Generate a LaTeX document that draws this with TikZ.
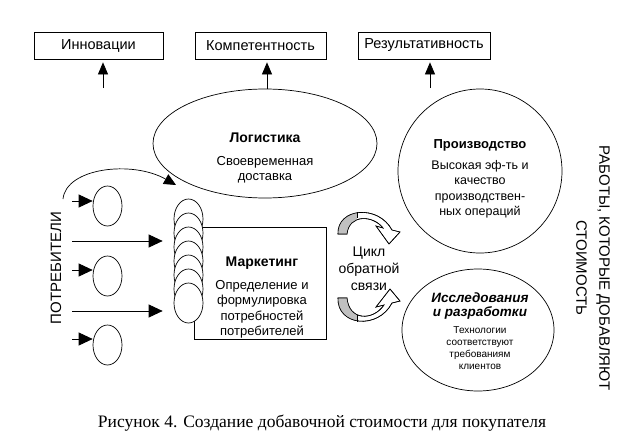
\documentclass[tikz,border=0pt]{standalone}
\usepackage{fontspec}
\setmainfont{Liberation Sans}
\newfontfamily\capfont{Liberation Serif}
\usetikzlibrary{shapes.geometric,arrows.meta}
\definecolor{bandgrey}{RGB}{192,192,192}
\begin{document}
\begin{tikzpicture}[x=1pt,y=-1pt,line width=0.7pt,
  topbox/.style={draw,minimum width=#1,minimum height=27pt,inner sep=0pt,font=\fontsize{14.5}{17}\selectfont},
  oval/.style={draw,ellipse,fill=white,minimum width=29pt,minimum height=40pt,inner sep=0pt},
  bigshape/.style={draw,ellipse,inner sep=0pt},
  title/.style={font=\bfseries\fontsize{14}{16}\selectfont,inner sep=0pt},
  body/.style={align=center,inner sep=0pt,font=\fontsize{13}{15.5}\selectfont},
  uparrow/.style={-{Triangle[length=12pt,width=10pt]}},
  rarrow/.style={-{Triangle[length=14pt,width=13pt]}},
  band/.style={draw,fill=white,line width=0.6pt}]
\useasboundingbox (0,0) rectangle (619,434);

% top boxes
\node[topbox=129pt] (innov) at (98.5,45.5) {Инновации};
\node[topbox=131pt] (komp) at (260.5,45.5) {Компетентность};
\node[topbox=132pt] (rez) at (424,45.5) {Результативность};

% big shapes
\node[bigshape,minimum width=224pt,minimum height=109pt] (log) at (265,143.5) {};
\node[bigshape,minimum width=164pt,minimum height=164pt] (prod) at (480,171) {};
\node[bigshape,minimum width=152pt,minimum height=122pt] (res) at (478,330) {};

% up arrows
\coordinate (a1) at (103,88);
\coordinate (a3) at (430,88);
\coordinate (k1) at (267,89);
\draw[uparrow,shorten >=3pt] (a1) -- (innov.south -| a1);
\draw[uparrow,shorten >=3pt] (k1) -- (komp.south -| k1);
\draw[uparrow,shorten >=3pt] (a3) -- (rez.south -| a3);

% logistics text
\node[title] (logt) at (265,138) {Логистика};
\node[body] (logb) at (265,170) {Своевременная\\доставка};

% production text
\node[title,font=\bfseries\fontsize{13}{15}\selectfont] (prodt) at (480,145) {Производство};
\node[body,font=\fontsize{12.5}{15.5}\selectfont] (prodb) at (480,189.5) {Высокая эф-ть и\\качество\\производствен-\\ных операций};

% marketing box and stack
\node[draw,minimum width=132pt,minimum height=112pt,inner sep=0pt] (mbox) at (260,283) {};
\foreach \k in {0,...,6} \node[oval] (st\k) at (188.5,{219+14*\k}) {};
\node[title] (mt) at (262,263) {Маркетинг};
\node[body] (mb) at (262,309.5) {Определение и\\формулировка\\потребностей\\потребителей};

% left ovals and arrows
\node[oval] (c1) at (107.5,206) {};
\node[oval] (c2) at (107.5,276) {};
\node[oval] (c3) at (107.5,345) {};
\coordinate (s1) at (72,201);
\coordinate (s2) at (72,270);
\coordinate (s3) at (72,339);
\draw[rarrow] (s1) -- (s1 -| c1.west);
\draw[rarrow] (s2) -- (s2 -| c2.west);
\draw[rarrow] (s3) -- (s3 -| c3.west);
\coordinate (l1) at (72,241);
\coordinate (l2) at (72,311);
\draw[rarrow,shorten >=11pt] (l1) -- (l1 -| st0.west);
\draw[rarrow,shorten >=11pt] (l2) -- (l2 -| st0.west);
\coordinate (cs) at (63,199);
\coordinate (ce) at (176,185);
\draw[-{Triangle[length=12pt,width=11pt]}] (cs) .. controls (66,168) and (132,160) .. (ce);

\node[rotate=90,inner sep=0pt,font=\fontsize{15}{18}\selectfont] (potr) at (56,268) {ПОТРЕБИТЕЛИ};

% cycle arrows
\begin{scope}
\draw[band] (338,234) .. controls (337,208) and (378,204) .. (392,230) -- (400,232) -- (389,244) -- (376,226) -- (383,228) .. controls (373,215) and (349,214) .. (347,234) -- cycle;
\clip (338,234) .. controls (337,208) and (378,204) .. (392,230) -- (383,228) .. controls (373,215) and (349,214) .. (347,234) -- cycle;
\fill[bandgrey] (330,200) rectangle (357,240);
\end{scope}
\draw[line width=0.6pt] (338,234) .. controls (337,208) and (378,204) .. (392,230) -- (400,232) -- (389,244) -- (376,226) -- (383,228) .. controls (373,215) and (349,214) .. (347,234) -- cycle;
\draw[line width=0.6pt] (357,212) -- (357,218);
\begin{scope}
\draw[band] (338,298) .. controls (337,326) and (378,330) .. (392,303) -- (400,301) -- (390,289) -- (376,307) -- (384,305) .. controls (373,321) and (349,321) .. (347,298) -- cycle;
\clip (338,298) .. controls (337,326) and (378,330) .. (392,303) -- (384,305) .. controls (373,321) and (349,321) .. (347,298) -- cycle;
\fill[bandgrey] (330,290) rectangle (357,335);
\end{scope}
\draw[line width=0.6pt] (338,298) .. controls (337,326) and (378,330) .. (392,303) -- (400,301) -- (390,289) -- (376,307) -- (384,305) .. controls (373,321) and (349,321) .. (347,298) -- cycle;
\draw[line width=0.6pt] (357,315) -- (357,322);
\node[body,font=\fontsize{14}{17}\selectfont] (cyc) at (369,269) {Цикл\\обратной\\связи};

% research text
\node[body,font=\bfseries\itshape\fontsize{13.5}{14}\selectfont] (rest) at (480,306) {Исследования\\и разработки};
\node[body,font=\fontsize{10}{12}\selectfont] (resb) at (480,348) {Технологии\\соответствуют\\требованиям\\клиентов};

% right vertical text
\node[rotate=-90,align=center,inner sep=0pt,font=\fontsize{15}{23}\selectfont] (work) at (593,268) {РАБОТЫ, КОТОРЫЕ ДОБАВЛЯЮТ\\СТОИМОСТЬ};

% caption
\node[inner sep=0pt,font=\capfont\fontsize{17.5}{20}\selectfont] (cap) at (322,423) {Рисунок 4. Создание добавочной стоимости для покупателя};
\end{tikzpicture}
\end{document}
